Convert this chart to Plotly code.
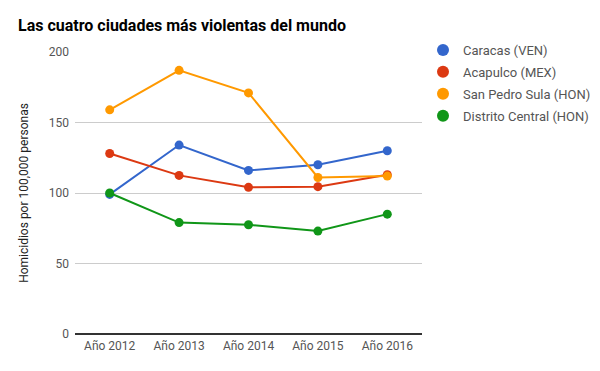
import plotly.graph_objects as go

years = ["Año 2012", "Año 2013", "Año 2014", "Año 2015", "Año 2016"]
series_names = ["Caracas (VEN)", "Acapulco (MEX)", "San Pedro Sula (HON)", "Distrito Central (HON)"]
caracas = [99, 134, 116, 120, 130]
acapulco = [128, 112.5, 104, 104.5, 113]
san_pedro_sula = [159, 187, 171, 111, 112]
distrito_central = [100, 79, 77.5, 73, 85]
colors = ["#3366cc", "#dc3912", "#ff9900", "#109618"]
y_ticks = [0, 50, 100, 150, 200]

values = [caracas, acapulco, san_pedro_sula, distrito_central]

# page body has an 8px margin, so the figure is drawn 8px in from the top-left
W, H = 592, 363

fig = go.Figure()
for name, vals, col in zip(series_names, values, colors):
    fig.add_trace(go.Scatter(
        x=years, y=vals, mode="lines+markers", name=name,
        line=dict(color=col, width=2), marker=dict(color=col, size=9),
        showlegend=False, legendgroup=name, hoverinfo="skip"))
for name, col in zip(series_names, colors):
    fig.add_trace(go.Scatter(
        x=[years[0]], y=[None], mode="markers", name=name,
        marker=dict(color=col, size=12), showlegend=True, legendgroup=name))

fig.update_layout(
    width=W, height=H,
    margin=dict(l=67, r=178, t=44, b=37, autoexpand=False),
    paper_bgcolor="white", plot_bgcolor="white",
    font=dict(family="Roboto", size=12, color="#444"),
    title=dict(text="Las cuatro ciudades más violentas del mundo",
               x=10/W, xanchor="left", xref="container",
               y=1-17/H, yanchor="middle", yref="container",
               font=dict(family="Roboto", size=16, color="#000", weight="bold")),
    legend=dict(x=415/W, xanchor="left", xref="container",
                y=1-27/H, yanchor="top", yref="container",
                font=dict(family="Roboto", size=13, color="#555"),
                tracegroupgap=2, bgcolor="rgba(0,0,0,0)"),
    xaxis=dict(showgrid=False, showline=False, ticks="", zeroline=False, automargin=False,
               tickfont=dict(size=12, color="#555"), range=[-0.5, 4.5], ticklabelstandoff=3),
    yaxis=dict(range=[0, 200], tickvals=y_ticks, showgrid=True, gridcolor="#cccccc",
               gridwidth=1, zeroline=True, zerolinecolor="#333333", zerolinewidth=1.5,
               tickfont=dict(size=12, color="#555"), ticks="", ticklen=0, automargin=False,
               ticklabelstandoff=5,
               title=dict(text="Homicidios por 100,000 personas",
                          font=dict(size=12, color="#222"), standoff=17)),
)
fig.write_html("out.html")
